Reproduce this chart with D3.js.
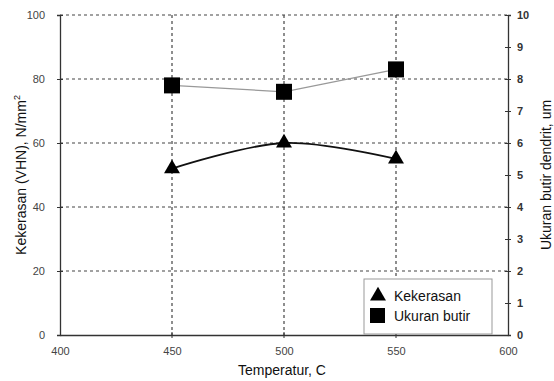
<!DOCTYPE html>
<html><head><meta charset="utf-8">
<script src="https://cdn.jsdelivr.net/npm/d3@7"></script>
<style>body{margin:0;background:#fff}svg{display:block;font-family:"Liberation Sans",Arial,sans-serif}</style>
</head><body>
<svg id="c" width="554" height="381"></svg>
<script>
const temps = [450, 500, 550];
const kekerasan = [52, 60, 55];
const ukuranButir = [7.8, 7.6, 8.3];
const xTicks = [400, 450, 500, 550, 600];
const yLeftTicks = [0, 20, 40, 60, 80, 100];
const yRightTicks = [0,1,2,3,4,5,6,7,8,9,10];

const svg = d3.select("#c");
const L = 60, R = 508, T = 15, B = 335;
const x = d3.scaleLinear().domain([400, 600]).range([L, R]);
const yL = d3.scaleLinear().domain([0, 100]).range([B, T]);
const yR = d3.scaleLinear().domain([0, 10]).range([B, T]);

const grid = svg.append("g");
yLeftTicks.filter(d => d > 0).forEach(d => {
  grid.append("line").attr("x1", L).attr("x2", R).attr("y1", yL(d)).attr("y2", yL(d))
    .attr("stroke", "#444").attr("stroke-width", 1.2).attr("stroke-dasharray", "3,3");
});
xTicks.filter(d => d > 400 && d < 600).forEach(d => {
  grid.append("line").attr("x1", x(d)).attr("x2", x(d)).attr("y1", T).attr("y2", B)
    .attr("stroke", "#444").attr("stroke-width", 1.2).attr("stroke-dasharray", "3,3");
});

// axes
const gx = svg.append("g").attr("transform", `translate(0,${B})`)
  .call(d3.axisBottom(x).tickValues(xTicks).tickSize(0).tickPadding(12));
gx.select(".domain").attr("stroke", "#333").attr("stroke-width", 1.3);
gx.selectAll("text").attr("font-size", 11).attr("fill", "#444").attr("font-family", "Liberation Sans, Arial, sans-serif");
xTicks.forEach(d => { if (d > 400 && d < 600) svg.append("line").attr("x1", x(d)).attr("x2", x(d)).attr("y1", B - 3).attr("y2", B + 3).attr("stroke", "#333"); });

const gl = svg.append("g").attr("transform", `translate(${L},0)`)
  .call(d3.axisLeft(yL).tickValues(yLeftTicks).tickSize(3).tickPadding(12));
gl.select(".domain").attr("stroke", "#333").attr("stroke-width", 1.3);
gl.selectAll(".tick line").attr("x2", 3).attr("x1", -3).attr("stroke", "#333");
gl.selectAll("text").attr("font-size", 11).attr("fill", "#444").attr("font-family", "Liberation Sans, Arial, sans-serif");

const gr = svg.append("g").attr("transform", `translate(${R},0)`)
  .call(d3.axisRight(yR).tickValues(yRightTicks).tickSize(3).tickPadding(6));
gr.select(".domain").attr("stroke", "#333").attr("stroke-width", 1.3);
gr.selectAll(".tick line").attr("x1", -3).attr("x2", 3).attr("stroke", "#333");
gr.selectAll("text").attr("font-size", 11).attr("font-weight", "bold").attr("fill", "#333").attr("font-family", "Liberation Sans, Arial, sans-serif");

// lines
svg.append("path").datum(temps.map((t, i) => [x(t), yR(ukuranButir[i])]))
  .attr("d", d3.line()).attr("fill", "none").attr("stroke", "#999").attr("stroke-width", 1.3);
svg.append("path").datum(temps.map((t, i) => [x(t), yL(kekerasan[i])]))
  .attr("d", d3.line().curve(d3.curveCardinal.tension(0))).attr("fill", "none").attr("stroke", "#111").attr("stroke-width", 1.8);

// markers
const tri = d3.symbol().type(d3.symbolTriangle).size(110);
temps.forEach((t, i) => {
  svg.append("path").attr("d", tri()).attr("transform", `translate(${x(t)},${yL(kekerasan[i])})`).attr("fill", "#000");
  svg.append("rect").attr("x", x(t) - 8).attr("y", yR(ukuranButir[i]) - 8).attr("width", 16).attr("height", 16).attr("fill", "#000");
});

// axis titles
svg.append("text").attr("transform", `translate(26,${(T + B) / 2}) rotate(-90)`).attr("text-anchor", "middle")
  .attr("font-size", 14).attr("fill", "#111").html('Kekerasan (VHN), N/mm<tspan dy="-6" font-size="9">2</tspan>');
svg.append("text").attr("transform", `translate(551,${(T + B) / 2}) rotate(-90)`).attr("text-anchor", "middle")
  .attr("font-size", 14).attr("fill", "#111").text("Ukuran butir dendrit, um");
svg.append("text").attr("x", 282).attr("y", 375).attr("text-anchor", "middle")
  .attr("font-size", 14).attr("fill", "#111").text("Temperatur, C");

// legend
const lg = svg.append("g");
lg.append("rect").attr("x", 364).attr("y", 279).attr("width", 128).attr("height", 55)
  .attr("fill", "#fff").attr("stroke", "#999").attr("stroke-width", 1);
lg.append("path").attr("d", tri()).attr("transform", "translate(378,296)").attr("fill", "#000");
lg.append("text").attr("x", 394).attr("y", 301).attr("font-size", 14).attr("fill", "#111").text("Kekerasan");
lg.append("rect").attr("x", 370).attr("y", 308).attr("width", 15).attr("height", 15).attr("fill", "#000");
lg.append("text").attr("x", 394).attr("y", 321).attr("font-size", 14).attr("fill", "#111").text("Ukuran butir");
</script>
</body></html>
